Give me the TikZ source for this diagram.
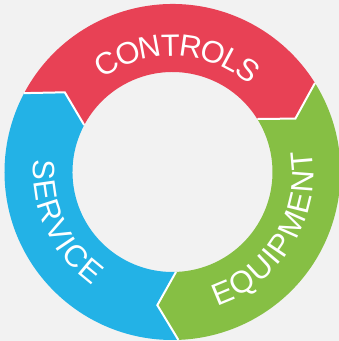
\documentclass[tikz,border=0pt]{standalone}
\usepackage{fontspec}
\setmainfont{Liberation Sans}
\usetikzlibrary{decorations.text}
\definecolor{ctrlred}{HTML}{E84155}
\definecolor{equipgreen}{HTML}{86BF44}
\definecolor{servblue}{HTML}{23B2E6}
\definecolor{bggray}{HTML}{F2F2F2}
\newcommand{\ringfont}{\fontsize{31}{31}\selectfont\color{white}}

\begin{document}
\begin{tikzpicture}[x=1bp, y=1bp, line join=miter,
  gapline/.style={white, line width=2bp},
  ringtext/.style={decorate, decoration={text along path, text align=center, raise=-11bp, text={#1}}}]
\fill[bggray] (-172.5,-169) rectangle (166.5,172);
\useasboundingbox (-172.5,-169) rectangle (166.5,172);
% segments: start angle / end angle / colour
\foreach \s/\e/\c in {152/32/ctrlred, 32/-88/equipgreen, 272/152/servblue}
  \fill[\c] (\s:168) arc[start angle=\s, end angle=\e, radius=168] -- ({\e-8.5}:134)
    -- (\e:100) arc[start angle=\e, end angle=\s, radius=100] -- ({\s-8.5}:134) -- cycle;
% white gaps
\foreach \e in {32,152,272}
  \draw[gapline] (\e:168) -- ({\e-8.5}:134) -- (\e:100);
% labels, path through the middle of the letters
\path[ringtext={|\ringfont|CONTROLS}] (167.5:127) arc[start angle=167.5, end angle=7.5, radius=127];
\path[ringtext={|\ringfont|SERVICE}] (159.7:128) arc[start angle=159.7, end angle=249.7, radius=128];
\path[ringtext={|\ringfont|EQUIPMENT}] (-76.5:130) arc[start angle=-76.5, end angle=13.5, radius=130];
\end{tikzpicture}
\end{document}
